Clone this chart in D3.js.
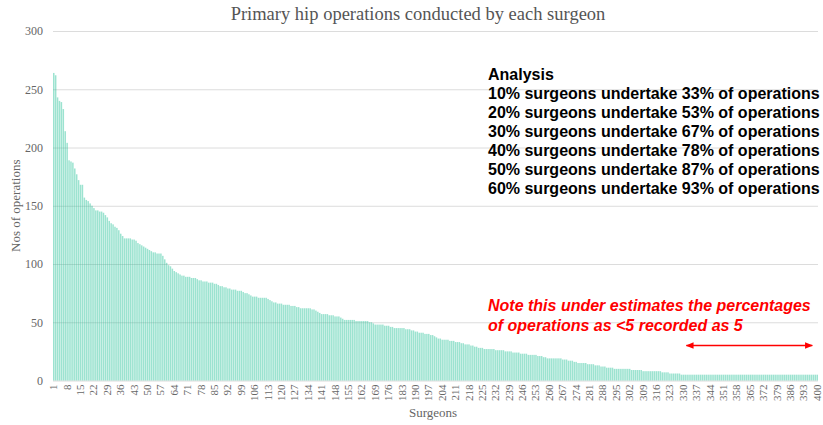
<!DOCTYPE html>
<html>
<head>
<meta charset="utf-8">
<script src="https://cdn.jsdelivr.net/npm/d3@7"></script>
<style>
	body { margin: 0; background: #fff; }
	svg { display: block; }
</style>
</head>
<body>
<div id="chart"></div>
<script>
// operations per surgeon, ranked high to low
const operations = [
	264, 262, 243, 240, 239, 233, 214, 204, 189, 188, 187, 182, 177, 172, 168, 168, 157, 155, 154, 152,
	150, 148, 146, 146, 145, 145, 144, 142, 140, 137, 135, 134, 132, 131, 129, 126, 124, 122, 122, 122,
	122, 121, 121, 120, 118, 117, 116, 115, 114, 113, 112, 111, 110, 110, 109, 109, 109, 107, 104, 101,
	99, 98, 96, 94, 93, 92, 91, 90, 90, 89, 89, 89, 88, 88, 88, 87, 86, 86, 85, 85,
	85, 84, 84, 84, 83, 83, 82, 81, 81, 80, 80, 79, 79, 78, 78, 78, 77, 77, 77, 76,
	75, 75, 74, 73, 72, 72, 72, 71, 71, 71, 71, 71, 70, 69, 68, 67, 67, 66, 66, 66,
	65, 65, 65, 65, 64, 64, 64, 63, 63, 62, 62, 62, 62, 62, 62, 61, 61, 60, 59, 58,
	57, 57, 57, 57, 56, 56, 56, 55, 55, 55, 54, 53, 52, 52, 52, 52, 52, 52, 51, 51,
	51, 51, 51, 51, 51, 50, 50, 49, 48, 48, 48, 48, 48, 47, 47, 47, 46, 46, 45, 45,
	45, 45, 45, 45, 44, 44, 44, 43, 43, 42, 42, 41, 41, 41, 40, 40, 40, 39, 39, 38,
	37, 36, 36, 35, 35, 35, 35, 34, 34, 34, 33, 33, 33, 32, 32, 31, 31, 31, 30, 30,
	29, 29, 28, 28, 28, 27, 27, 27, 27, 27, 27, 26, 26, 26, 26, 26, 25, 25, 25, 25,
	24, 24, 24, 24, 23, 23, 23, 23, 22, 22, 22, 22, 22, 21, 21, 21, 20, 20, 19, 19,
	19, 19, 19, 19, 19, 19, 18, 18, 18, 17, 17, 17, 16, 16, 15, 15, 15, 15, 15, 14,
	14, 14, 14, 13, 13, 13, 12, 12, 12, 11, 11, 11, 11, 10, 10, 10, 10, 10, 10, 10,
	10, 10, 9, 9, 9, 9, 9, 9, 8, 8, 8, 8, 8, 8, 8, 8, 8, 8, 7, 7,
	7, 7, 6, 6, 6, 6, 6, 6, 5, 5, 5, 5, 5, 5, 5, 5, 5, 5, 5, 5,
	5, 5, 5, 5, 5, 5, 5, 5, 5, 5, 5, 5, 5, 5, 5, 5, 5, 5, 5, 5,
	5, 5, 5, 5, 5, 5, 5, 5, 5, 5, 5, 5, 5, 5, 5, 5, 5, 5, 5, 5,
	5, 5, 5, 5, 5, 5, 5, 5, 5, 5, 5, 5, 5, 5, 5, 5, 5, 5, 5, 5
];
const surgeons = operations.map((d, i) => i + 1);
const xTickLabels = surgeons.filter(s => (s - 1) % 7 === 0);
const yTicks = [0, 50, 100, 150, 200, 250, 300];

const analysisLines = [
	"Analysis",
	"10% surgeons undertake 33% of operations",
	"20% surgeons undertake 53% of operations",
	"30% surgeons undertake 67% of operations",
	"40% surgeons undertake 78% of operations",
	"50% surgeons undertake 87% of operations",
	"60% surgeons undertake 93% of operations"
];
const noteLines = [
	"Note this under estimates the percentages",
	"of operations as <5 recorded as 5"
];
// surgeons recorded as 5 (arrow span) and its height on the value axis
const arrowFrom = 332, arrowTo = 397, arrowLevel = 30;

const W = 823, H = 425;
const margins = { L: 53, R: 5, T: 31, B: 44.5 };
const SERIF = '"Liberation Serif", "Times New Roman", serif';
const SANS = '"Liberation Sans", Arial, sans-serif';

const svg = d3.select('#chart').append('svg')
	.attr('width', W)
	.attr('height', H);

const x = d3.scaleBand()
	.domain(surgeons)
	.range([margins.L, W - margins.R])
	.paddingInner(0.22);

const y = d3.scaleLinear()
	.domain([0, 300])
	.range([H - margins.B, margins.T]);

// grid + y labels
const yAxis = svg.append('g')
	.attr('transform', 'translate(' + margins.L + ',0)')
	.call(d3.axisLeft(y).tickValues(yTicks).tickSize(-(W - margins.L - margins.R)).tickPadding(10));
yAxis.select('.domain').remove();
yAxis.selectAll('line').attr('stroke', '#dcdcdc').attr('stroke-width', 1);
yAxis.selectAll('text')
	.attr('fill', '#666')
	.style('font', '12px ' + SERIF);

// bars, semi transparent so grid shows through
svg.append('g').selectAll('rect')
	.data(operations)
	.enter().append('rect')
		.attr('x', (d, i) => x(surgeons[i]))
		.attr('y', d => y(d))
		.attr('width', x.bandwidth())
		.attr('height', d => y(0) - y(d))
		.attr('fill', 'rgba(36, 192, 150, 0.45)');

// x labels
const xAxis = svg.append('g')
	.attr('transform', 'translate(0,' + y(0) + ')')
	.call(d3.axisBottom(x).tickValues(xTickLabels).tickSize(0).tickPadding(0));
xAxis.select('.domain').remove();
xAxis.selectAll('text')
	.attr('fill', '#666')
	.attr('transform', 'translate(0,4) rotate(-90)')
	.attr('text-anchor', 'end')
	.attr('dy', '0.32em')
	.attr('y', 0)
	.attr('x', 0)
	.style('font', '11px ' + SERIF);

// titles
svg.append('text')
	.attr('x', 418).attr('y', 20)
	.attr('text-anchor', 'middle')
	.attr('fill', '#555')
	.style('font', '18.5px ' + SERIF)
	.text('Primary hip operations conducted by each surgeon');

svg.append('text')
	.attr('x', 433).attr('y', 417)
	.attr('text-anchor', 'middle')
	.attr('fill', '#666')
	.style('font', '13px ' + SERIF)
	.text('Surgeons');

svg.append('text')
	.attr('transform', 'translate(20,' + y(150) + ') rotate(-90)')
	.attr('text-anchor', 'middle')
	.attr('fill', '#666')
	.style('font', '13px ' + SERIF)
	.text('Nos of operations');

// analysis block
svg.append('g').selectAll('text')
	.data(analysisLines)
	.enter().append('text')
		.attr('x', 488)
		.attr('y', (d, i) => 80 + i * 19)
		.attr('fill', '#000')
		.style('font', 'bold 16px ' + SANS)
		.text(d => d);

// red note
svg.append('g').selectAll('text')
	.data(noteLines)
	.enter().append('text')
		.attr('x', 488)
		.attr('y', (d, i) => 311 + i * 20)
		.attr('fill', '#f00')
		.style('font', 'italic bold 16px ' + SANS)
		.text(d => d);

const defs = svg.append('defs');
['arrowEnd', 'arrowStart'].forEach((id, k) => {
	defs.append('marker')
		.attr('id', id)
		.attr('viewBox', '0 0 10 10')
		.attr('refX', 9).attr('refY', 5)
		.attr('markerWidth', 8).attr('markerHeight', 8)
		.attr('markerUnits', 'userSpaceOnUse')
		.attr('orient', k === 0 ? 'auto' : 'auto-start-reverse')
		.append('path')
			.attr('d', 'M0,1 L10,5 L0,9 Z')
			.attr('fill', '#f00');
});

svg.append('line')
	.attr('x1', x(arrowFrom)).attr('x2', x(arrowTo) + x.bandwidth())
	.attr('y1', y(arrowLevel)).attr('y2', y(arrowLevel))
	.attr('stroke', '#f00')
	.attr('stroke-width', 1.5)
	.attr('marker-start', 'url(#arrowStart)')
	.attr('marker-end', 'url(#arrowEnd)');
</script>
</body>
</html>
